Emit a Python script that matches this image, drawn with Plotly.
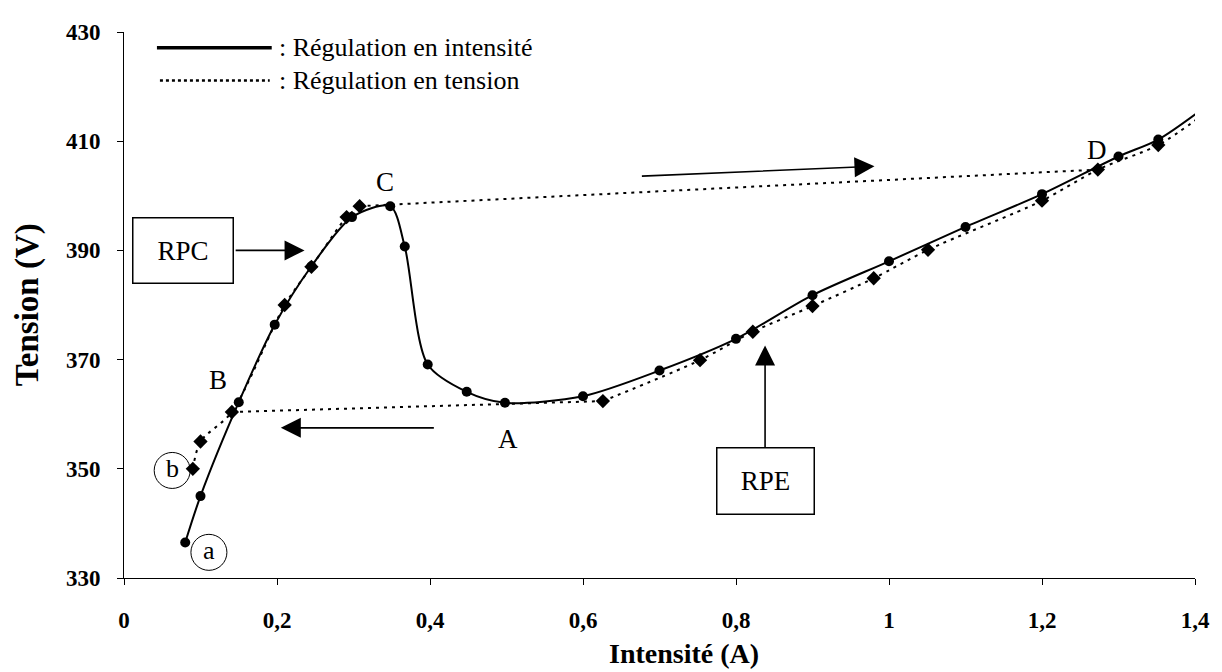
import plotly.graph_objects as go

# ---- data ----
intensite_x = [0.08, 0.10, 0.15, 0.197, 0.245, 0.298, 0.348, 0.367, 0.397, 0.448, 0.498,
               0.60, 0.70, 0.80, 0.90, 1.00, 1.10, 1.20, 1.30, 1.352, 1.404]
intensite_y = [336.5, 345.0, 362.2, 376.4, 387.1, 396.1, 398.1, 390.7, 369.1, 364.1, 362.1,
               363.3, 368.0, 373.8, 381.8, 388.0, 394.3, 400.3, 407.2, 410.3, 415.3]

tension_rpc_x = [0.09, 0.10, 0.141, 0.21, 0.245, 0.291, 0.308]
tension_rpc_y = [350.0, 355.0, 360.4, 380.0, 387.0, 396.1, 398.1]
tension_rpe_x = [0.626, 0.753, 0.822, 0.90, 0.98, 1.051, 1.20, 1.273, 1.352, 1.41]
tension_rpe_y = [362.4, 369.9, 375.1, 379.8, 384.9, 390.1, 399.1, 404.8, 409.3, 414.8]

x_ticks = [0, 0.2, 0.4, 0.6, 0.8, 1.0, 1.2, 1.4]
x_ticktext = ["0", "0,2", "0,4", "0,6", "0,8", "1", "1,2", "1,4"]
y_ticks = [330, 350, 370, 390, 410, 430]

legend_labels = [": Régulation en intensité", ": Régulation en tension"]
point_labels = ["A", "B", "C", "D"]
point_label_x = [0.502, 0.123, 0.341, 1.272]
point_label_y = [355.4, 366.2, 402.5, 408.4]

SERIF = "Liberation Serif, Times New Roman, serif"
DOT = "3px,5px"

# plot area in pixels (page has an 8px body margin)
PL, PT, PW, PH = 116, 18, 1073, 552
W, H = 1214, 664

fig = go.Figure()

fig.add_trace(go.Scatter(
    x=intensite_x, y=intensite_y, mode="lines+markers",
    line=dict(color="black", width=2, shape="spline", smoothing=0.8),
    marker=dict(symbol="circle", size=10, color="black"),
    cliponaxis=False, showlegend=False))

fig.add_trace(go.Scatter(
    x=tension_rpc_x, y=tension_rpc_y, mode="lines+markers",
    line=dict(color="black", width=2, dash=DOT, shape="spline", smoothing=0.8),
    marker=dict(symbol="diamond", size=11, color="black"),
    cliponaxis=False, showlegend=False))
fig.add_trace(go.Scatter(
    x=tension_rpe_x, y=tension_rpe_y, mode="lines+markers",
    line=dict(color="black", width=2, dash=DOT, shape="spline", smoothing=0.8),
    marker=dict(symbol="diamond", size=11, color="black"),
    cliponaxis=False, showlegend=False))
fig.add_trace(go.Scatter(
    x=[tension_rpc_x[-1], tension_rpe_x[7]], y=[tension_rpc_y[-1], tension_rpe_y[7]],
    mode="lines", line=dict(color="black", width=2, dash=DOT),
    cliponaxis=False, showlegend=False))
fig.add_trace(go.Scatter(
    x=[tension_rpe_x[0], tension_rpc_x[2]], y=[tension_rpe_y[0], tension_rpc_y[2]],
    mode="lines", line=dict(color="black", width=2, dash=DOT),
    cliponaxis=False, showlegend=False))

ann = []
for t, x, y in zip(point_labels, point_label_x, point_label_y):
    ann.append(dict(x=x, y=y, text=t, showarrow=False,
                    font=dict(family=SERIF, size=27, color="black")))

for t, x, y in [("a", 0.111, 334.7), ("b", 0.063, 349.7)]:
    ann.append(dict(x=x, y=y, text=t, showarrow=False,
                    font=dict(family=SERIF, size=26, color="black"), yshift=2))
    fig.add_shape(type="circle", xref="x", yref="y", xsizemode="pixel", ysizemode="pixel",
                  xanchor=x, yanchor=y, x0=-18, x1=18, y0=-18, y1=18,
                  line=dict(color="black", width=1))

ann.append(dict(x=0.077, y=390, text="RPC", showarrow=False, width=97, height=62,
                bordercolor="black", borderwidth=1.5, bgcolor="white",
                font=dict(family=SERIF, size=27, color="black")))
ann.append(dict(x=0.838, y=347.8, text="RPE", showarrow=False, width=94, height=63,
                bordercolor="black", borderwidth=1.5, bgcolor="white",
                font=dict(family=SERIF, size=27, color="black")))

for (tx, ty, hx, hy) in [(0.144, 390, 0.236, 390),
                         (0.838, 353.7, 0.838, 372.6),
                         (0.407, 357.5, 0.205, 357.5),
                         (0.675, 403.6, 0.981, 405.4)]:
    ann.append(dict(x=hx, y=hy, ax=tx, ay=ty, xref="x", yref="y", axref="x", ayref="y",
                    showarrow=True, arrowhead=2, arrowsize=2.5, arrowwidth=1.6,
                    arrowcolor="black", text=""))

# custom legend
fig.add_shape(type="line", xref="paper", yref="paper",
              x0=(157 - 124) / PW, x1=(272 - 124) / PW,
              y0=(578 - 42) / PH, y1=(578 - 42) / PH,
              line=dict(color="black", width=3.5))
fig.add_shape(type="line", xref="paper", yref="paper",
              x0=(160 - 124) / PW, x1=(270 - 124) / PW,
              y0=(578 - 75) / PH, y1=(578 - 75) / PH,
              line=dict(color="black", width=2.5, dash="3px,3px"))
for i, lab in enumerate(legend_labels):
    yy = [42, 75][i]
    ann.append(dict(xref="paper", yref="paper", x=(277 - 124) / PW, y=(578 - yy) / PH,
                    xanchor="left", yanchor="middle", text=lab, showarrow=False,
                    font=dict(family=SERIF, size=26, color="black")))

ann.append(dict(xref="paper", yref="paper", x=(685 - 124) / PW, y=(578 - 654) / PH,
                text="<b>Intensité (A)</b>", showarrow=False, xanchor="center", yanchor="middle",
                font=dict(family=SERIF, size=28, color="black")))
ann.append(dict(xref="paper", yref="paper", x=(27 - 124) / PW, y=(578 - 302) / PH,
                text="<b>Tension (V)</b>", showarrow=False, textangle=-90,
                xanchor="center", yanchor="middle",
                font=dict(family=SERIF, size=33, color="black")))

fig.update_layout(
    width=W, height=H,
    margin=dict(l=PL, r=W - PL - PW, t=PT, b=H - PT - PH),
    paper_bgcolor="white", plot_bgcolor="white",
    annotations=ann, showlegend=False,
)
fig.update_xaxes(range=[0, 1.4], tickvals=x_ticks, ticktext=x_ticktext,
                 showline=True, linecolor="black", linewidth=1,
                 ticks="outside", ticklen=6, tickcolor="black", showgrid=False, zeroline=False,
                 ticklabelstandoff=15,
                 tickfont=dict(family=SERIF, size=23, color="black", weight="bold"))
fig.update_yaxes(range=[330, 430], tickvals=y_ticks,
                 showline=True, linecolor="black", linewidth=1,
                 ticks="outside", ticklen=6, tickcolor="black", showgrid=False, zeroline=False,
                 ticklabelstandoff=12,
                 tickfont=dict(family=SERIF, size=23, color="black", weight="bold"))

fig.write_html("out.html")
